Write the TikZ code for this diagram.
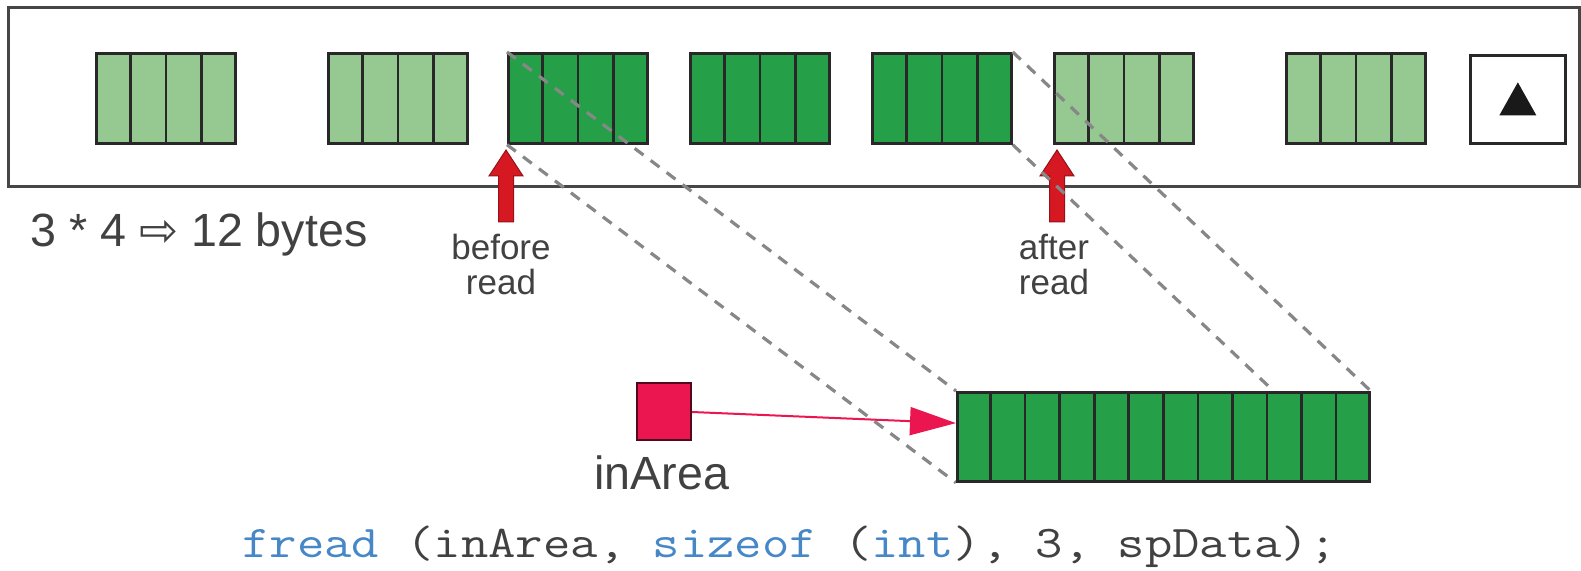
\documentclass[tikz,border=0pt]{standalone}
\usepackage{fontspec}
\setmainfont{Liberation Sans}
\newfontfamily\codefont[FakeStretch=1.17]{Latin Modern Mono}
\newfontfamily\symfont{DejaVu Sans}
\usetikzlibrary{arrows.meta,calc}

\definecolor{lightg}{RGB}{150,200,145}
\definecolor{darkg}{RGB}{38,160,72}
\definecolor{ink}{RGB}{65,65,65}
\definecolor{cellline}{RGB}{40,40,40}
\definecolor{framegray}{RGB}{70,70,70}
\definecolor{arrowred}{RGB}{214,24,34}
\definecolor{ptrred}{RGB}{235,22,80}
\definecolor{dashgray}{RGB}{135,135,135}
\definecolor{codeblue}{RGB}{70,135,200}

\pgfdeclarelayer{front}
\pgfsetlayers{main,front}

\tikzset{
  framebox/.style={draw=framegray, line width=1.5pt},
  word/.style={draw=cellline, line width=1.35pt, rectangle, inner sep=0pt,
    minimum width=69.5pt, minimum height=45pt, anchor=north west},
  divider/.style={draw=cellline, line width=1.35pt},
  uparrow/.style={fill=arrowred, draw=arrowred!70!black, line width=0.5pt},
  copyline/.style={draw=dashgray, line width=1.6pt, dash pattern=on 5.5pt off 4.5pt},
  smalltxt/.style={text=ink, inner sep=0pt, align=center,
    font=\fontsize{17.5pt}{17.5pt}\selectfont},
  bigtxt/.style={text=ink, inner sep=0pt, font=\fontsize{23.3pt}{27pt}\selectfont},
  codetxt/.style={text=ink, inner sep=0pt, font=\codefont\fontsize{22.7pt}{27pt}\selectfont},
  ptrbox/.style={draw=ptrred!35!black, line width=1pt, fill=ptrred, inner sep=0pt,
    minimum width=27pt, minimum height=28.5pt},
  ptr/.style={draw=ptrred, line width=1pt, -{Triangle[length=23pt,width=14pt]}},
}

\begin{document}
\begin{tikzpicture}[x=0.5pt,y=-0.5pt]
\useasboundingbox (0,0) rectangle (1581,571);

% file buffer frame
\draw[framebox] (8,8) rectangle (1579,187);

% integers stored in the file, four bytes each
\foreach \n/\x/\c in {b1/95/lightg, b2/327/lightg, b3/507/darkg, b4/689/darkg,
                      b5/871/darkg, b6/1053/lightg, b7/1285/lightg} {
  \node[word, fill=\c] (\n) at (\x,52) {};
  \foreach \k in {1,2,3}
    \draw[divider] ($(\n.north west)!\k/4!(\n.north east)$) --
                   ($(\n.south west)!\k/4!(\n.south east)$);
}

% end-of-file marker
\node[word, fill=white, minimum width=47.5pt, minimum height=44pt] (eof) at (1469,54) {};
\fill[black!90] ($(eof.center)+(0,-17)$) -- ++(18.5,33) -- ++(-37,0) -- cycle;

% file position markers
\foreach \nm/\x in {posbefore/506, posafter/1057} {
  \coordinate (\nm) at (\x,150);
  \filldraw[uparrow] (\nm) -- ++(17,26) -- ++(-9.5,0) -- ++(0,46) -- ++(-15,0)
                 -- ++(0,-46) -- ++(-9.5,0) -- cycle;
}

% destination area in memory (drawn in front of the copy lines)
\begin{pgfonlayer}{front}
  \node[word, fill=darkg, minimum width=206pt, minimum height=44.5pt] (arr) at (956,391) {};
  \foreach \k in {1,...,11}
    \draw[divider] ($(arr.north west)!\k/12!(arr.north east)$) --
                   ($(arr.south west)!\k/12!(arr.south east)$);
\end{pgfonlayer}

% copied bytes
\draw[copyline] (b3.north west) -- (arr.north west);
\draw[copyline] (b3.south west) -- (arr.south west);
\draw[copyline] (b5.north east) -- (arr.north east);
\draw[copyline] (b5.south east) -- (arr.south east);

% labels
\node[bigtxt, anchor=base west] (bytes) at (30,247) {3 * 4 {\symfont ⇨} 12 bytes};
\node[smalltxt, anchor=north] (lbefore) at (501,234) {before\\read};
\node[smalltxt, anchor=north] (lafter) at (1054,234) {after\\read};

% pointer variable
\node[ptrbox] (inarea) at (664,412) {};
\node[bigtxt, anchor=base] (inarealbl) at (662,490) {inArea};
\coordinate (ptrend) at ($(arr.north west)!0.35!(arr.south west)$);
\draw[ptr] (inarea.east) -- (ptrend);

% the call
\node[codetxt, anchor=base west] (code) at (242,558)
  {\textcolor{codeblue}{fread} (inArea, \textcolor{codeblue}{sizeof} (\textcolor{codeblue}{int}), 3, spData);};
\end{tikzpicture}
\end{document}
